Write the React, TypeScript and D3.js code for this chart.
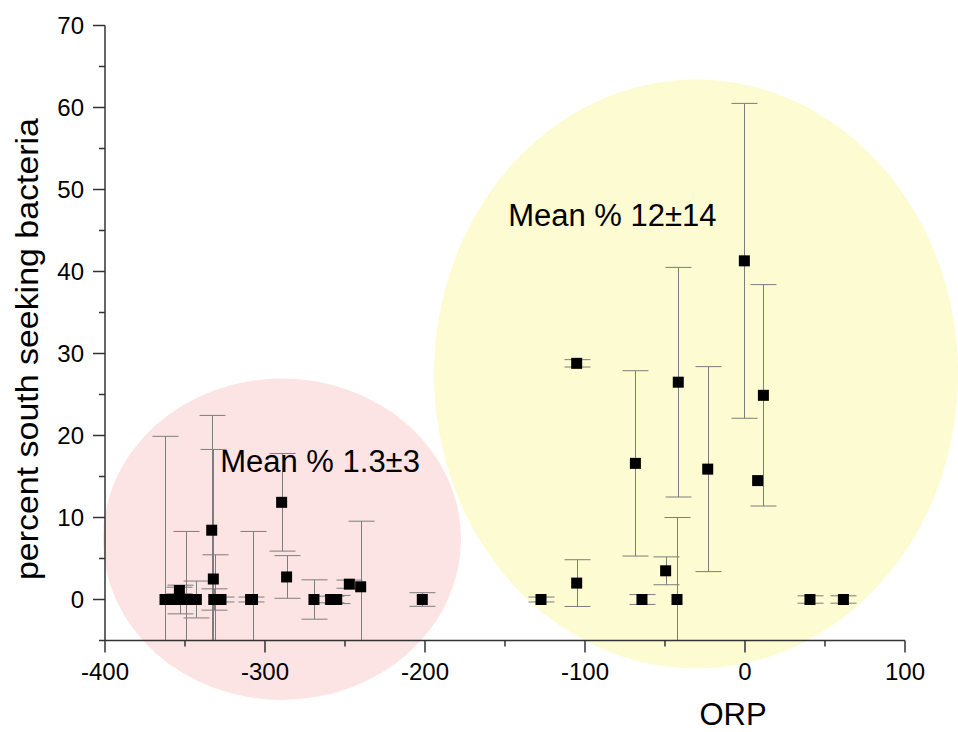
import React from 'react';
import * as d3 from 'd3';

// ORP (mV) of each sample, percent south seeking and its error
const orp = [
  -362.5, -356, -353.5, -353, -349.6, -342.9, -333.3, -332.3, -332, -331.5,
  -327.5, -309, -307.8, -289.6, -286.5, -269.4, -259, -255.2, -247.3, -240.2,
  -201.7,
  -127.5, -105.2, -105.2, -68.5, -64.4, -49.6, -42.5, -41.7, -23.3, -0.4,
  7.9, 11.5, 40.6, 61.5,
];
const percent = [
  0, 0, 1.1, 0, 0, 0, 8.45, 2.5, 0, 0,
  0, 0, 0, 11.85, 2.75, 0, 0, 0, 1.87, 1.55,
  0,
  0, 28.8, 2.0, 16.6, 0, 3.5, 0, 26.5, 15.9, 41.3,
  14.5, 24.9, 0, 0,
];
const percentErr = [
  19.9, 0.4, 0.4, 1.75, 8.3, 2.25, 14, 15.8, 1.3, 5.45,
  0.3, 0.3, 8.3, 5.95, 2.6, 2.4, 0.4, 0.5, 0.5, 8,
  0.83,
  0.3, 0.45, 2.85, 11.3, 0.6, 1.7, 10, 14, 12.5, 19.2,
  0, 13.5, 0.45, 0.45,
];

const xTicks = [-400, -300, -200, -100, 0, 100];
const xMinor = [-350, -250, -150, -50, 50];
const yTicks = [0, 10, 20, 30, 40, 50, 60, 70];
const yMinor = [-5, 5, 15, 25, 35, 45, 55, 65];

// group ellipses: [centre orp, centre percent, radius orp, radius percent]
const groups = [
  { cx: -289.4, cy: 7.35, rx: 111.9, ry: 19.6, fill: '#fde4e4', label: 'Mean % 1.3±3', lx: -328, ly: 15.5 },
  { cx: -30.6, cy: 27.5, rx: 163.75, ry: 35.9, fill: '#fdfbd1', label: 'Mean % 12±14', lx: -148, ly: 45.5 },
];

const W = 958;
const H = 732;
const font = 'Arial, "Liberation Sans", Helvetica, sans-serif';

export default function App() {
  const x = d3.scaleLinear().domain([-400, 100]).range([105, 905]);
  const y = d3.scaleLinear().domain([-5, 70]).range([640.5, 25.5]);
  const points = orp.map((o, i) => ({ o, p: percent[i], e: percentErr[i] }));
  const cap = 13;
  const box = 11;

  return (
    <svg
      width={W}
      height={H}
      style={{ position: 'absolute', left: 0, top: 0, background: '#fff' }}
    >
      <defs>
        <clipPath id="plot">
          <rect x={x(-400)} y={y(70) - 2} width={x(100) - x(-400)} height={y(-5) - y(70) + 2} />
        </clipPath>
      </defs>

      {groups.map((g, i) => (
        <ellipse
          key={i}
          cx={x(g.cx)}
          cy={y(g.cy)}
          rx={x(g.cx + g.rx) - x(g.cx)}
          ry={y(g.cy) - y(g.cy + g.ry)}
          fill={g.fill}
        />
      ))}

      {/* error bars */}
      <g clipPath="url(#plot)" stroke="#7d7d7d" strokeWidth={1} fill="none">
        {points.map((d, i) => {
          if (!d.e) return null;
          const cx = Math.round(x(d.o)) + 0.5;
          const top = y(d.p + d.e);
          const bot = y(d.p - d.e);
          return (
            <g key={i}>
              <line x1={cx} x2={cx} y1={top} y2={bot} />
              <line x1={cx - cap} x2={cx + cap} y1={top} y2={top} />
              <line x1={cx - cap} x2={cx + cap} y1={bot} y2={bot} />
            </g>
          );
        })}
      </g>

      {/* points */}
      <g fill="#000">
        {points.map((d, i) => (
          <rect key={i} x={x(d.o) - box / 2} y={y(d.p) - box / 2} width={box} height={box} />
        ))}
      </g>

      {groups.map((g, i) => (
        <text key={i} x={x(g.lx)} y={y(g.ly)} fontFamily={font} fontSize={31} fill="#000">
          {g.label}
        </text>
      ))}

      {/* x axis */}
      <g stroke="#333" strokeWidth={1.5}>
        <line x1={x(-400)} x2={x(100)} y1={y(-5)} y2={y(-5)} />
        {xTicks.map(t => (
          <line key={t} x1={x(t)} x2={x(t)} y1={y(-5)} y2={y(-5) + 12} />
        ))}
        {xMinor.map(t => (
          <line key={t} x1={x(t)} x2={x(t)} y1={y(-5)} y2={y(-5) + 6} />
        ))}
      </g>
      {xTicks.map(t => (
        <text key={t} x={x(t)} y={680} textAnchor="middle" fontFamily={font} fontSize={24} fill="#000">
          {t}
        </text>
      ))}
      <text x={733} y={725} textAnchor="middle" fontFamily={font} fontSize={31} fill="#000">
        ORP
      </text>

      {/* y axis */}
      <g stroke="#333" strokeWidth={1.5}>
        <line x1={x(-400)} x2={x(-400)} y1={y(70)} y2={y(-5)} />
        {yTicks.map(t => (
          <line key={t} x1={x(-400) - 12} x2={x(-400)} y1={y(t)} y2={y(t)} />
        ))}
        {yMinor.map(t => (
          <line key={t} x1={x(-400) - 6} x2={x(-400)} y1={y(t)} y2={y(t)} />
        ))}
      </g>
      {yTicks.map(t => (
        <text key={t} x={84} y={y(t)} dy="0.36em" textAnchor="end" fontFamily={font} fontSize={24} fill="#000">
          {t}
        </text>
      ))}
      <text
        transform="translate(38,349) rotate(-90)"
        textAnchor="middle"
        fontFamily={font}
        fontSize={31}
        textLength={462}
        lengthAdjust="spacingAndGlyphs"
        fill="#000"
      >
        percent south seeking bacteria
      </text>
    </svg>
  );
}
